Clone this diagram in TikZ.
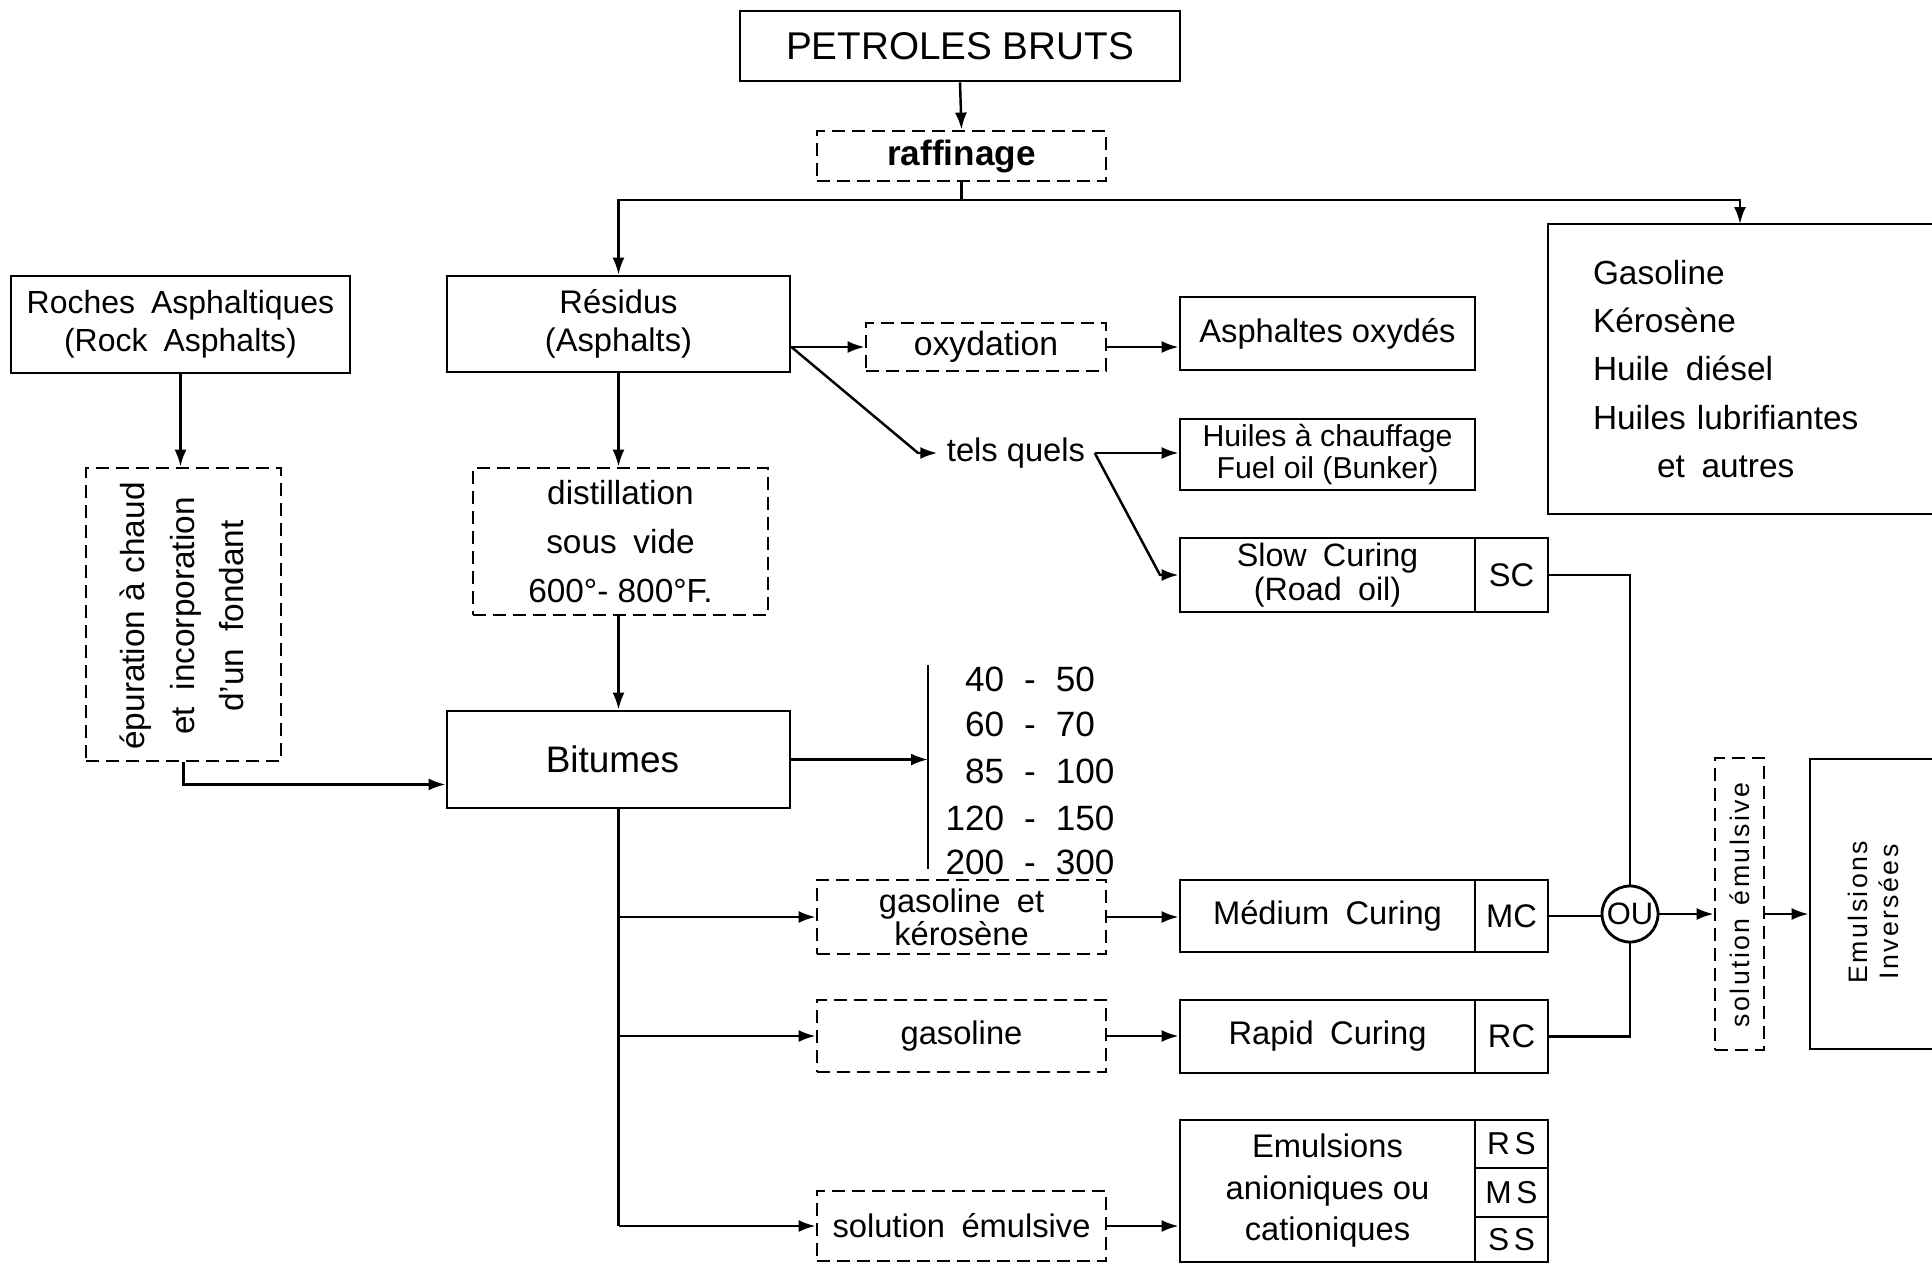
\documentclass[tikz,border=0pt]{standalone}
\usepackage{fontspec}
\setmainfont{Liberation Sans}
\newfontfamily\spaced[LetterSpace=15]{Liberation Sans}
\newfontfamily\vspaced[LetterSpace=9]{Liberation Sans}
\usetikzlibrary{arrows.meta,calc}
\begin{document}
\begin{tikzpicture}[x=0.1mm,y=-0.1mm,
  every node/.style={font=\fontsize{9.3}{10.8}\selectfont, inner sep=0pt},
  box/.style={draw, line width=0.8pt, rectangle},
  dbox/.style={draw, line width=0.8pt, dash pattern=on 1.3mm off 0.7mm},
  ln/.style={line width=0.7pt},
  arr/.style={ln, -{Latex[length=1.7mm,width=1.2mm]}},
]
\clip (0,0) rectangle (1932,1263);
\fill[white] (0,0) rectangle (1932,1263);

% boxes
\node[box, minimum width=44mm, minimum height=7mm, font=\fontsize{11}{13}\selectfont] (petrole) at (960,46) {PETROLES BRUTS};
\node[dbox, minimum width=28.9mm, minimum height=5mm, font=\bfseries\fontsize{10}{12}\selectfont] (raff) at (961.5,156) {raffinage};
\node[box, minimum width=33.9mm, minimum height=9.7mm, align=center, font=\fontsize{9.1}{10.8}\selectfont] (roches) at (180.5,324.5) {Roches\enspace Asphaltiques\\(Rock\enspace Asphalts)};
\node[box, minimum width=34.3mm, minimum height=9.6mm, align=center] (residus) at (618.5,324) {Résidus\\(Asphalts)};
\node[box, minimum width=41.2mm, minimum height=29mm, align=left, text width=32.2mm, inner xsep=4.5mm, font=\fontsize{9.5}{13.7}\selectfont] (gasbox) at (1754,369) {Gasoline\\Kérosène\\Huile\enspace diésel\\Huiles lubrifiantes\\\hspace*{6.4mm}et\enspace autres};

\node[dbox, minimum width=19.5mm, minimum height=29.3mm] (epur) at (183.5,614.5) {};
\node[rotate=90, align=center, font=\fontsize{9.5}{14}\selectfont] (epurtxt) at (182,616) {épuration à chaud\\et\enspace incorporation\\d'un\enspace fondant};

\node[dbox, minimum width=29.5mm, minimum height=14.7mm, align=center, font=\fontsize{9.5}{14}\selectfont] (distill) at (620.5,541.5) {distillation\\sous\enspace vide\\600°- 800°F.};
\node[box, minimum width=34.3mm, minimum height=9.7mm, font=\fontsize{10.5}{12}\selectfont] (bitumes) at (618.5,759.5) {\hspace*{-1.2mm}Bitumes};

\node[dbox, minimum width=24mm, minimum height=4.8mm, font=\fontsize{9.6}{11}\selectfont] (oxy) at (986,347) {oxydation};
\node[box, minimum width=29.5mm, minimum height=7.3mm] (asox) at (1327.5,333.5) {Asphaltes oxydés};
\node[inner xsep=0.9mm] (tq) at (1016,453) {tels quels};
\node[box, minimum width=29.5mm, minimum height=7.1mm, align=center, font=\fontsize{8.6}{9}\selectfont] (huiles) at (1327.5,454.5) {Huiles à chauffage\\Fuel oil (Bunker)};
\node[box, minimum width=29.5mm, minimum height=7.4mm, align=center, font=\fontsize{9.2}{9.8}\selectfont] (slow) at (1327.5,575) {\raisebox{-0.3mm}{Slow\enspace Curing}\\\raisebox{-0.3mm}{(Road\enspace oil)}};
\node[box, minimum width=7.3mm, minimum height=7.4mm] (sc) at (1511.5,575) {SC};

\node[dbox, minimum width=28.9mm, minimum height=7.4mm, align=center, font=\fontsize{9.3}{9.3}\selectfont] (gk) at (961.5,917) {gasoline\enspace et\\kérosène};
\node[box, minimum width=29.5mm, minimum height=7.2mm] (med) at (1327.5,916) {Médium\enspace Curing};
\node[box, minimum width=7.3mm, minimum height=7.2mm] (mc) at (1511.5,916) {MC};

\node[dbox, minimum width=28.9mm, minimum height=7.2mm] (gas) at (961.5,1036) {gasoline};
\node[box, minimum width=29.5mm, minimum height=7.3mm] (rapid) at (1327.5,1036.5) {Rapid\enspace Curing};
\node[box, minimum width=7.3mm, minimum height=7.3mm] (rc) at (1511.5,1036.5) {RC};

\node[dbox, minimum width=28.9mm, minimum height=7mm] (sol) at (961.5,1226) {solution\enspace émulsive};
\node[box, minimum width=29.5mm, minimum height=14.2mm, align=center, font=\fontsize{9.3}{11.8}\selectfont] (emul) at (1327.5,1191) {Emulsions\\anioniques ou\\cationiques};
\node[box, minimum width=7.3mm, minimum height=4.8mm, font=\spaced\fontsize{9}{10}\selectfont] (rs) at (1511.5,1144) {RS};
\node[box, minimum width=7.3mm, minimum height=4.9mm, font=\spaced\fontsize{9}{10}\selectfont] (ms) at (1511.5,1192.5) {MS};
\node[box, minimum width=7.3mm, minimum height=4.5mm, font=\spaced\fontsize{9}{10}\selectfont] (ss) at (1511.5,1239.5) {SS};

\node[draw, circle, line width=0.8pt, minimum size=5.6mm, font=\fontsize{8.8}{10}\selectfont] (ou) at (1630,914) {OU};

\node[dbox, minimum width=4.9mm, minimum height=29.2mm] (solv) at (1739.5,904) {};
\node[rotate=90, font=\vspaced\fontsize{7.6}{9}\selectfont] (solvtxt) at (1740,905) {solution\enspace émulsive};
\node[box, minimum width=15mm, minimum height=29mm] (inv) at (1885,904) {};
\node[rotate=90, align=center, font=\vspaced\fontsize{7.6}{8.8}\selectfont] (invtxt) at (1873.5,912) {Emulsions\\Inversées};

% grades
\node[font=\fontsize{10}{12}\selectfont] (n1) at (1030,679) {\makebox[0pt][r]{40}\hspace{2mm}-\hspace{2mm}\makebox[0pt][l]{50}};
\node[font=\fontsize{10}{12}\selectfont] (n2) at (1030,724) {\makebox[0pt][r]{60}\hspace{2mm}-\hspace{2mm}\makebox[0pt][l]{70}};
\node[font=\fontsize{10}{12}\selectfont] (n3) at (1030,771) {\makebox[0pt][r]{85}\hspace{2mm}-\hspace{2mm}\makebox[0pt][l]{100}};
\node[font=\fontsize{10}{12}\selectfont] (n4) at (1030,818) {\makebox[0pt][r]{120}\hspace{2mm}-\hspace{2mm}\makebox[0pt][l]{150}};
\node[font=\fontsize{10}{12}\selectfont] (n5) at (1030,862) {\makebox[0pt][r]{200}\hspace{2mm}-\hspace{2mm}\makebox[0pt][l]{300}};

% connectors
\draw[arr] (petrole.south) -- (raff.north);
\coordinate (J) at (961.5,200);
\draw[ln] (raff.south) -- (J);
\draw[arr] (J) -| (residus.north);
\coordinate (gin) at (1740,224);
\draw[arr] (J) -| (gin);

\draw[arr] (roches.south) -- (roches.south |- epur.north);
\draw[arr] (epur.south) |- ($(bitumes.south west)!0.25!(bitumes.north west)$);
\draw[arr] (residus.south) -- (residus.south |- distill.north);
\draw[arr] (bitumes.north |- distill.south) -- (bitumes.north);

\coordinate (bt) at (928,665);
\coordinate (bb) at (928,869);
\draw[ln] (bt) -- (bb);
\draw[arr] (bitumes.east) -- (bitumes.east -| bt);

\draw[ln] (bitumes.south) -- (bitumes.south |- sol.west);
\draw[arr] (bitumes.south |- gk.west) -- (gk.west);
\draw[arr] (bitumes.south |- gas.west) -- (gas.west);
\draw[arr] (bitumes.south |- sol.west) -- (sol.west);
\draw[arr] (gk.east) -- (gk.east -| med.west);
\draw[arr] (gas.east) -- (gas.east -| rapid.west);
\draw[arr] (sol.east) -- (sol.east -| emul.west);

\draw[arr] (residus.east |- oxy.west) -- (oxy.west);
\draw[arr] (oxy.east) -- (oxy.east -| asox.west);
\coordinate (tqa) at (918,453);
\draw[arr] (residus.east |- oxy.west) -- (tqa) -- (tq.west);
\draw[arr] (tq.east) -- (tq.east -| huiles.west);
\coordinate (swa) at (1160,575);
\draw[arr] (tq.east) -- (swa) -- (slow.west);

\draw[ln] (sc.east) -| (ou.north);
\draw[ln] (mc.east) -- (mc.east -| ou.west);
\draw[ln] (rc.east) -| (ou.south);
\draw[arr] (ou.east) -- (ou.east -| solv.west);
\draw[arr] (ou.east -| solv.east) -- (ou.east -| inv.west);
\end{tikzpicture}
\end{document}
